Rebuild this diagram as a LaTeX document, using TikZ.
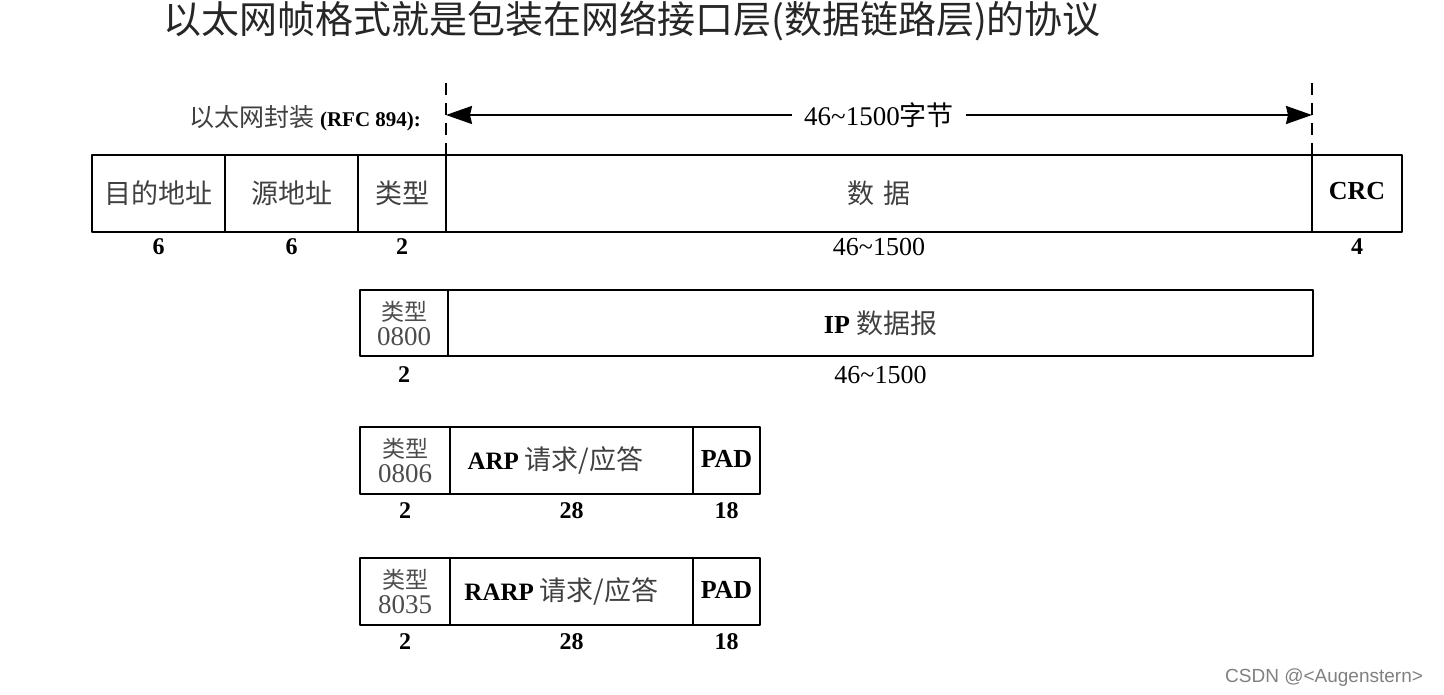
\documentclass[tikz,border=0pt]{standalone}
\usepackage{fontspec}
\setmainfont{Liberation Serif}
\newfontfamily\cjk{Noto Sans CJK SC}
\newfontfamily\wmfont{Liberation Sans}
\usetikzlibrary{arrows.meta,positioning}
\begin{document}
\begin{tikzpicture}[x=0.5pt,y=-0.5pt,line join=round,>={Stealth[length=13pt,width=9pt,inset=1pt]}]
  \tikzset{field/.style={draw,line width=1pt,inner sep=0pt,outer sep=0pt,align=center,
      font=\fontsize{13.5}{14}\selectfont\cjk\color{black!75}},
    size label/.style={inner sep=1pt,font=\fontsize{12}{12}\selectfont\bfseries},
    len label/.style={inner sep=1pt,font=\fontsize{13}{13}\selectfont},
    type cell/.style={field,font=\fontsize{11.5}{13.5}\selectfont\color{black!70}}}
  \def\px{0.5pt}
  \useasboundingbox (0,0) rectangle (1444,695);
  % title
  \node[font=\fontsize{19}{19}\selectfont\cjk,text=black!85] (title) at (632,21)
    {以太网帧格式就是包装在网络接口层(数据链路层)的协议};
  % ethernet frame
  \node[field,anchor=north west,minimum width={133*\px},minimum height={77*\px}] (dst) at (92,155) {目的地址};
  \node[field,minimum width={133*\px},minimum height={77*\px},right=0pt of dst] (src) {源地址};
  \node[field,minimum width={88*\px},minimum height={77*\px},right=0pt of src] (type) {类型};
  \node[field,minimum width={866*\px},minimum height={77*\px},right=0pt of type] (data) {数\,\,据};
  \node[field,minimum width={90*\px},minimum height={77*\px},right=0pt of data] (crc)
    {\fontsize{13}{13}\selectfont\rmfamily\bfseries\color{black}\raisebox{3pt}{CRC}};
  \node[size label,below=2pt of dst.south] {6};
  \node[size label,below=2pt of src.south] {6};
  \node[size label,below=2pt of type.south] {2};
  \node[len label,below=2pt of data.south] {46\textasciitilde1500};
  \node[size label,below=2pt of crc.south] {4};
  % span of the data field
  \path (data.north west) ++(0,-72) coordinate (ltop);
  \path (data.north east) ++(0,-72) coordinate (rtop);
  \draw[dashed,line width=0.8pt,dash pattern=on 6pt off 4pt] (data.north west) -- (ltop);
  \draw[dashed,line width=0.8pt,dash pattern=on 6pt off 4pt] (data.north east) -- (rtop);
  \coordinate (la) at (data.north west |- 0,115);
  \coordinate (lb) at (data.north east |- 0,115);
  \draw[<->,line width=1pt] (la) -- node[fill=white,inner xsep=6pt,
      font=\fontsize{13.5}{14}\selectfont] (span) {46\textasciitilde1500{\cjk 字节}} (lb);
  \node[anchor=east,font=\fontsize{12.5}{13}\selectfont\cjk,text=black!75] (encap) at (428,118)
    {以太网封装 {\rmfamily\bfseries\fontsize{10.5}{11}\selectfont\color{black}(RFC 894):}};
  % IP datagram
  \node[type cell,anchor=north west,minimum width={88*\px},minimum height={66*\px}] (iptype) at (360,290)
    {{\cjk 类型}\\[-1pt]\fontsize{13.5}{13.5}\selectfont 0800};
  \node[field,minimum width={865*\px},minimum height={66*\px},right=0pt of iptype] (ip)
    {{\rmfamily\bfseries\fontsize{13}{13}\selectfont\color{black}IP} 数据报};
  \node[size label,below=4pt of iptype.south] {2};
  \node[len label,below=4pt of ip.south] {46\textasciitilde1500};
  % ARP request/reply
  \node[type cell,anchor=north west,minimum width={90*\px},minimum height={67*\px}] (arptype) at (360,427)
    {{\cjk 类型}\\[-1pt]\fontsize{13.5}{13.5}\selectfont 0806};
  \node[field,minimum width={243*\px},minimum height={67*\px},right=0pt of arptype] (arp)
    {{\rmfamily\bfseries\fontsize{12.5}{13}\selectfont\color{black}ARP} 请求/应答\hspace*{16pt}};
  \node[field,minimum width={67*\px},minimum height={67*\px},right=0pt of arp] (arppad)
    {\fontsize{13}{13}\selectfont\rmfamily\bfseries\color{black}\raisebox{2pt}{PAD}};
  \node[size label,below=3pt of arptype.south] {2};
  \node[size label,below=3pt of arp.south] {28};
  \node[size label,below=3pt of arppad.south] {18};
  % RARP request/reply
  \node[type cell,anchor=north west,minimum width={90*\px},minimum height={67*\px}] (rarptype) at (360,558)
    {{\cjk 类型}\\[-1pt]\fontsize{13.5}{13.5}\selectfont 8035};
  \node[field,minimum width={243*\px},minimum height={67*\px},right=0pt of rarptype] (rarp)
    {{\rmfamily\bfseries\fontsize{12.5}{13}\selectfont\color{black}RARP} 请求/应答\hspace*{10pt}};
  \node[field,minimum width={67*\px},minimum height={67*\px},right=0pt of rarp] (rarppad)
    {\fontsize{13}{13}\selectfont\rmfamily\bfseries\color{black}\raisebox{2pt}{PAD}};
  \node[size label,below=3pt of rarptype.south] {2};
  \node[size label,below=3pt of rarp.south] {28};
  \node[size label,below=3pt of rarppad.south] {18};
  % watermark
  \node[anchor=east,font=\fontsize{9.5}{10}\selectfont\wmfont,text=black!50] (mark) at (1430,678)
    {CSDN @<Augenstern>};
\end{tikzpicture}
\end{document}
